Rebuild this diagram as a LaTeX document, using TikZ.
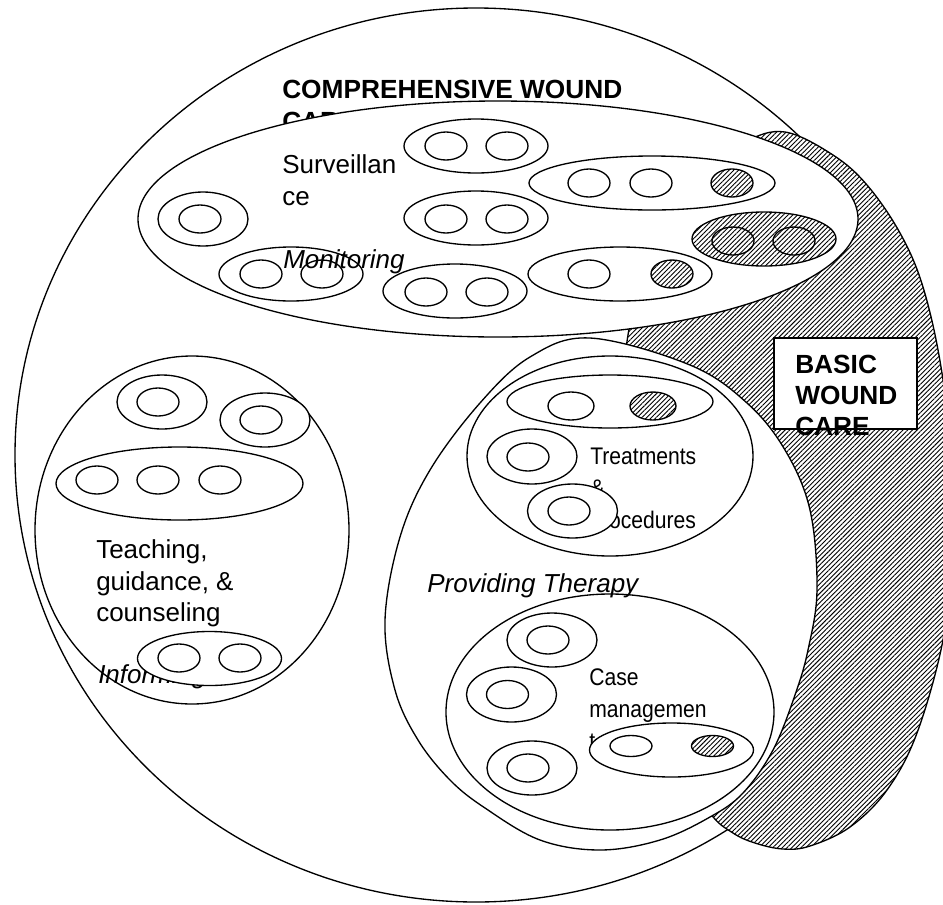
\documentclass[tikz,border=0pt]{standalone}
\usepackage{fontspec}
\setmainfont{Liberation Sans}
\newfontfamily\narrowsans[FakeStretch=0.88]{Liberation Sans}
\usetikzlibrary{patterns.meta}

% generic outline shapes
\tikzset{
  shape line/.style={draw=black, line width=1pt, fill=white},
  hatched/.style={draw=black, line width=1pt, preaction={fill=white},
    pattern={Lines[angle=45,distance=2.5pt,line width=0.68pt]}},
  lbl/.style={anchor=base west, inner sep=0pt, font=\fontsize{19.5}{24}\selectfont},
  lblbold/.style={lbl, font=\fontsize{19.7}{24}\selectfont\bfseries},
  lblit/.style={lbl, font=\fontsize{19.5}{24}\selectfont\itshape},
  lblnarrow/.style={lbl, font=\fontsize{18}{24}\selectfont\narrowsans},
}
% an activity group (outer ellipse)
\newcommand\woundset[5][shape line]{\path[#1] (#2,#3) ellipse [x radius=#4, y radius=#5];}
% a single activity (small ellipse)
\newcommand\woundcell[3][shape line]{\path[#1] (#2,#3) ellipse [x radius=21, y radius=14];}

\begin{document}
\begin{tikzpicture}[x=0.75pt,y=-0.75pt]
\useasboundingbox (0,0) rectangle (943,904);
\clip (0,0) rectangle (943,904);
\fill[white] (0,0) rectangle (943,904);

% comprehensive wound care
\path[shape line] (476,455) ellipse [x radius=461, y radius=447];
\node[lblbold] (cwc1) at (282,98) {COMPREHENSIVE WOUND};
\node[lblbold] (cwc2) at (282,130) {CARE};

% basic wound care region
\path[hatched] plot[smooth cycle, tension=0.6] coordinates {
  (785,132) (833,155) (867,185) (900,233) (923,287) (941,367) (953,470)
  (950,560) (943,640) (917,733) (887,790) (850,827) (810,846) (783,849)
  (755,843) (733,833) (710,813) (680,760) (645,650) (625,520) (622,420)
  (628,335) (650,250) (700,175) (745,142)};

% monitoring
\path[shape line] (498,219) ellipse [x radius=360, y radius=118];
\woundset{476}{146}{72}{27} \woundcell{446}{146} \woundcell{507}{146}
\woundset{476}{218}{72}{27} \woundcell{446}{219} \woundcell{507}{219}
\woundset{203}{219}{45}{27} \woundcell{200}{219}
\woundset{291}{274}{72}{27} \woundcell{261}{274} \woundcell{322}{274}
\woundset{455}{291}{72}{27} \woundcell{426}{292} \woundcell{487}{292}
\woundset{652}{183}{123}{27} \woundcell{589}{183} \woundcell{651}{183} \woundcell[hatched]{732}{183}
\woundset[hatched]{764}{239}{72}{27} \woundcell[hatched]{733}{241} \woundcell[hatched]{794}{241}
\woundset{620}{274}{92}{27} \woundcell{589}{274} \woundcell[hatched]{672}{274}
\node[lbl] (surv1) at (282,173) {Surveillan};
\node[lbl] (surv2) at (282,205) {ce};
\node[lblit] (monitor) at (283,268) {Monitoring};

% informing
\path[shape line] (192,530) ellipse [x radius=157, y radius=174];
\woundset{162}{402}{45}{27} \woundcell{158}{402}
\woundset{265}{420}{45}{27} \woundcell{261}{420}
\woundset{179.5}{483.5}{123.5}{36.5} \woundcell{97}{480} \woundcell{158}{480} \woundcell{220}{480}
\node[lbl] (teach1) at (96,558) {Teaching,};
\node[lbl] (teach2) at (96,590) {guidance, \&};
\node[lbl] (teach3) at (96,621) {counseling};
\node[lblit] (inform) at (98,683) {Informing};
\woundset{209.5}{658.5}{72}{27} \woundcell{179}{658} \woundcell{240}{658}

% providing therapy
\path[shape line] plot[smooth cycle, tension=0.6] coordinates {
  (590,338) (690,365) (747,403) (785,450) (810,510) (817,590)
  (808,650) (795,695) (773,750) (743,793) (710,817) (660,840) (600,850)
  (540,840) (485,808) (450,780) (418,740) (395,690) (385,620) (400,537)
  (430,470) (480,403) (530,357)};

% treatments and procedures
\path[shape line] (610,456) ellipse [x radius=143, y radius=100];
\woundset{610}{401.5}{103}{26.5}
\path[shape line] (571,406) ellipse [x radius=23, y radius=14];
\path[hatched] (653,406) ellipse [x radius=23, y radius=14];
\woundset{532}{456.5}{45}{27.5} \woundcell{528}{457}
\node[lblnarrow] (treat1) at (590,464) {Treatments};
\node[lblnarrow] (treat2) at (590,496) {\&};
\node[lblnarrow] (treat3) at (590,528) {procedures};
\woundset{572.5}{511}{45}{27} \woundcell{569}{511}

% case management
\path[shape line] (610,712) ellipse [x radius=164, y radius=118];
\woundset{552}{640}{45}{27} \woundcell{548}{640}
\woundset{511.5}{694.5}{45}{27.5} \woundcell{507.5}{694.5}
\woundset{532}{768}{45}{27} \woundcell{528}{768}
\node[lblnarrow] (case1) at (589,685) {Case};
\node[lblnarrow] (case2) at (589,717) {managemen};
\node[lblnarrow] (case3) at (589,749) {t};
\woundset{671.5}{750}{82}{27}
\path[shape line] (631,746) ellipse [x radius=21, y radius=10.5];
\path[hatched] (712.5,746) ellipse [x radius=21, y radius=10.5];
\node[lblit] (therapy) at (427,592) {Providing Therapy};

% basic wound care label
\path[shape line] (774,338) rectangle (917,429);
\node[lblbold] (basic1) at (795,373) {BASIC};
\node[lblbold] (basic2) at (795,404) {WOUND};
\node[lblbold] (basic3) at (795,435) {CARE};
\end{tikzpicture}
\end{document}
